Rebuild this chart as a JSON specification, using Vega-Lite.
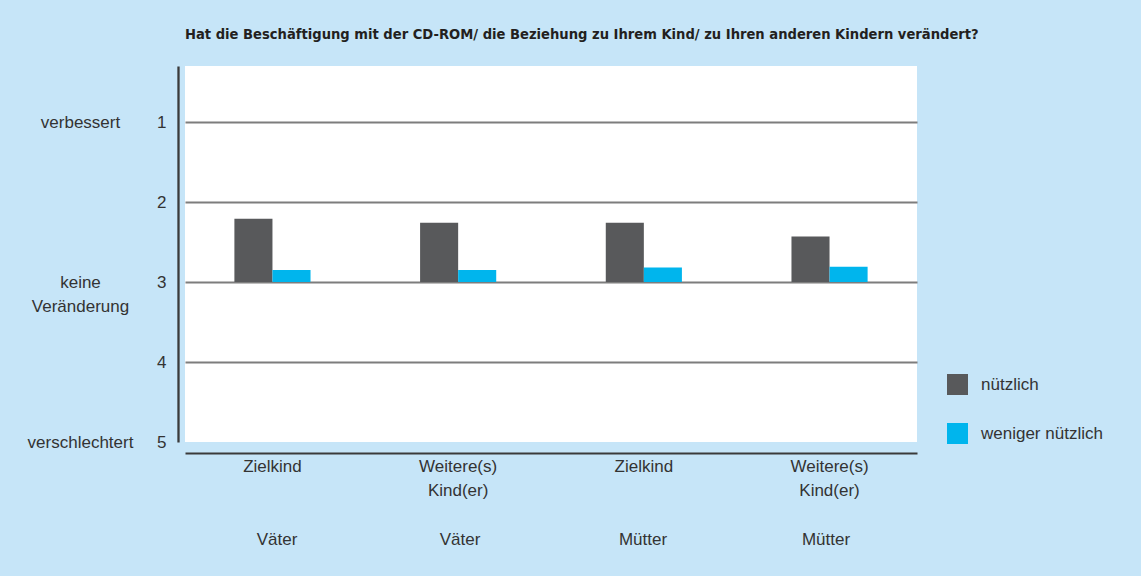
{
  "$schema": "https://vega.github.io/schema/vega-lite/v6.json",
  "width": 732,
  "height": 376,
  "autosize": {"type": "none"},
  "padding": {"left": 185, "top": 66, "right": 224, "bottom": 134},
  "background": "#c6e5f8",
  "title": {
    "text": "Hat die Beschäftigung mit der CD-ROM/ die Beziehung zu Ihrem Kind/ zu Ihren anderen Kindern verändert?",
    "anchor": "start",
    "frame": "group",
    "font": "DejaVu Sans Condensed, Liberation Sans, sans-serif",
    "fontSize": 14.6,
    "fontWeight": "bold",
    "color": "#231f20",
    "offset": 24
  },
  "config": {
    "view": {"fill": "white", "stroke": null},
    "font": "Liberation Sans"
  },
  "data": {
    "values": [
      {"gruppe": "Väter-Zielkind", "kind": "Zielkind", "eltern": "Väter", "reihe": "nützlich", "wert": 2.21},
      {"gruppe": "Väter-Zielkind", "kind": "Zielkind", "eltern": "Väter", "reihe": "weniger nützlich", "wert": 2.85},
      {"gruppe": "Väter-Weitere", "kind": "Weitere(s)|Kind(er)", "eltern": "Väter", "reihe": "nützlich", "wert": 2.26},
      {"gruppe": "Väter-Weitere", "kind": "Weitere(s)|Kind(er)", "eltern": "Väter", "reihe": "weniger nützlich", "wert": 2.85},
      {"gruppe": "Mütter-Zielkind", "kind": "Zielkind", "eltern": "Mütter", "reihe": "nützlich", "wert": 2.26},
      {"gruppe": "Mütter-Zielkind", "kind": "Zielkind", "eltern": "Mütter", "reihe": "weniger nützlich", "wert": 2.82},
      {"gruppe": "Mütter-Weitere", "kind": "Weitere(s)|Kind(er)", "eltern": "Mütter", "reihe": "nützlich", "wert": 2.43},
      {"gruppe": "Mütter-Weitere", "kind": "Weitere(s)|Kind(er)", "eltern": "Mütter", "reihe": "weniger nützlich", "wert": 2.81}
    ]
  },
  "layer": [
    {
      "mark": {"type": "bar"},
      "encoding": {
        "x": {
          "field": "gruppe",
          "type": "nominal",
          "sort": null,
          "scale": {"paddingInner": 0.59, "paddingOuter": 0.266},
          "axis": {
            "title": null,
            "orient": "bottom",
            "offset": 11,
            "domainColor": "#3a3a3a",
            "domainWidth": 2,
            "ticks": false,
            "tickSize": 0,
            "labelAngle": 0,
            "labelExpr": "indexof(datum.value, 'Weitere') >= 0 ? ['Weitere(s)', 'Kind(er)'] : 'Zielkind'",
            "labelFontSize": 17,
            "labelColor": "#333333",
            "labelPadding": 5,
            "labelLineHeight": 24,
            "labelBaseline": "top"
          }
        },
        "xOffset": {
          "field": "reihe",
          "type": "nominal",
          "scale": {"paddingInner": 0, "paddingOuter": 0}
        },
        "y": {
          "field": "wert",
          "type": "quantitative",
          "scale": {"domain": [0.3, 5], "reverse": true, "zero": false, "nice": false},
          "axis": {
            "title": null,
            "orient": "left",
            "offset": 7,
            "values": [1, 2, 3, 4, 5],
            "domainColor": "#3a3a3a",
            "domainWidth": 2.3,
            "ticks": false,
            "tickSize": 0,
            "labelPadding": 12,
            "labelFontSize": 17,
            "labelColor": "#333333",
            "labelOverlap": false,
            "grid": true,
            "gridColor": "#7d7d7d",
            "gridWidth": 2,
            "gridOpacity": {"condition": {"test": "datum.value == 5", "value": 0}, "value": 1}
          }
        },
        "y2": {"datum": 3},
        "color": {
          "field": "reihe",
          "type": "nominal",
          "scale": {"domain": ["nützlich", "weniger nützlich"], "range": ["#58595b", "#00b5ed"]},
          "legend": {
            "title": null,
            "orient": "none",
            "legendX": 762,
            "legendY": 308,
            "symbolType": "square",
            "symbolSize": 441,
            "symbolStrokeWidth": 0,
            "labelFontSize": 17,
            "labelColor": "#333333",
            "labelOffset": 13,
            "rowPadding": 28,
            "padding": 0
          }
        }
      }
    },
    {
      "mark": {"type": "point", "opacity": 0},
      "encoding": {
        "x": {
          "field": "gruppe",
          "type": "nominal",
          "sort": null,
          "scale": {"paddingInner": 0.59, "paddingOuter": 0.266},
          "axis": {
            "title": null,
            "orient": "bottom",
            "offset": 11,
            "domain": false,
            "ticks": false,
            "tickSize": 0,
            "grid": false,
            "labelAngle": 0,
            "labelExpr": "indexof(datum.value, 'Väter') >= 0 ? 'Väter' : 'Mütter'",
            "labelFontSize": 17,
            "labelColor": "#333333",
            "labelPadding": 78,
            "labelBaseline": "top"
          }
        },
        "y": {
          "field": "wert",
          "type": "quantitative",
          "scale": {"domain": [0.3, 5], "reverse": true, "zero": false, "nice": false},
          "axis": {
            "title": null,
            "orient": "left",
            "offset": 7,
            "values": [1, 3, 5],
            "domain": false,
            "ticks": false,
            "tickSize": 0,
            "grid": false,
            "labelPadding": 98,
            "labelAlign": "center",
            "labelBaseline": "middle",
            "labelLineHeight": 24,
            "labelFontSize": 17,
            "labelColor": "#333333",
            "labelOverlap": false,
            "labelExpr": "datum.value == 1 ? 'verbessert' : datum.value == 3 ? ['keine', 'Veränderung'] : 'verschlechtert'"
          }
        }
      }
    }
  ],
  "resolve": {
    "scale": {"y": "independent", "x": "independent"},
    "axis": {"y": "independent", "x": "independent"}
  }
}
